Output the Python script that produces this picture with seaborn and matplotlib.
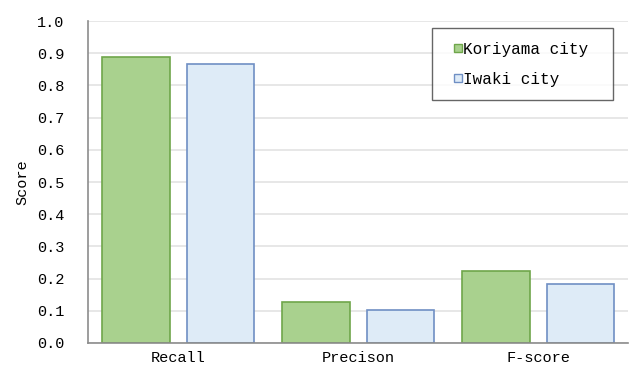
import matplotlib
matplotlib.use("Agg")
import matplotlib.pyplot as plt
from matplotlib.lines import Line2D
import seaborn as sns
import pandas as pd

categories = ["Recall", "Precison", "F-score"]
koriyama = [0.888, 0.127, 0.224]
iwaki = [0.866, 0.102, 0.183]
series_names = ["Koriyama city", "Iwaki city"]
yticks = [0.0, 0.1, 0.2, 0.3, 0.4, 0.5, 0.6, 0.7, 0.8, 0.9, 1.0]

df = pd.DataFrame({
    "category": categories * 2,
    "score": koriyama + iwaki,
    "city": [series_names[0]] * 3 + [series_names[1]] * 3,
})

sns.set_theme(style="white")
plt.rcParams["font.family"] = ["Liberation Mono", "DejaVu Sans Mono"]
plt.rcParams["text.color"] = "black"
plt.rcParams["xtick.color"] = "black"
plt.rcParams["ytick.color"] = "black"
plt.rcParams["axes.labelcolor"] = "black"

fill_colors = ["#a9d18e", "#deebf7"]
edge_colors = ["#6fa64a", "#6f8fc4"]

fig = plt.figure(figsize=(6.3, 3.7), dpi=100)
ax = fig.add_axes([0.14, 0.073, 0.857, 0.87])

sns.barplot(data=df, x="category", y="score", hue="city", order=categories,
            hue_order=series_names, palette=dict(zip(series_names, fill_colors)),
            saturation=1, width=0.94, gap=0.2, linewidth=1.2, ax=ax,
            errorbar=None, legend=False)

for container, ec in zip(ax.containers, edge_colors):
    for bar in container:
        bar.set_edgecolor(ec)

ax.set_ylim(0, 1.0)
ax.set_yticks(yticks)
ax.set_yticklabels([f"{v:.1f}" for v in yticks], fontsize=11)
ax.set_xlim(-0.5, 2.5)
ax.tick_params(axis="x", labelsize=11, length=0, pad=6)
ax.tick_params(axis="y", length=0, pad=17)
ax.yaxis.grid(True, color="#e3e3e3", linewidth=1.2)
ax.set_axisbelow(True)
ax.set_xlabel("")
ax.set_ylabel("Score", fontsize=11, labelpad=6)
for side in ["top", "right"]:
    ax.spines[side].set_visible(False)
for side in ["left", "bottom"]:
    ax.spines[side].set_color("#8c8c8c")
    ax.spines[side].set_linewidth(1.2)

handles = [Line2D([], [], linestyle="none", marker="s", markersize=5.5,
                  markerfacecolor=fc, markeredgecolor=ec, markeredgewidth=1.0)
           for fc, ec in zip(fill_colors, edge_colors)]
leg = ax.legend(handles, series_names, loc="upper left",
                bbox_to_anchor=(0.637, 0.978, 0.335, 0), mode="expand",
                fontsize=11.5, frameon=True, fancybox=False, edgecolor="#404040",
                handlelength=1.5, handletextpad=-0.44, labelspacing=0.95,
                borderpad=0.85, borderaxespad=0)
leg.get_frame().set_linewidth(1.0)

fig.savefig("out.png", dpi=100)
